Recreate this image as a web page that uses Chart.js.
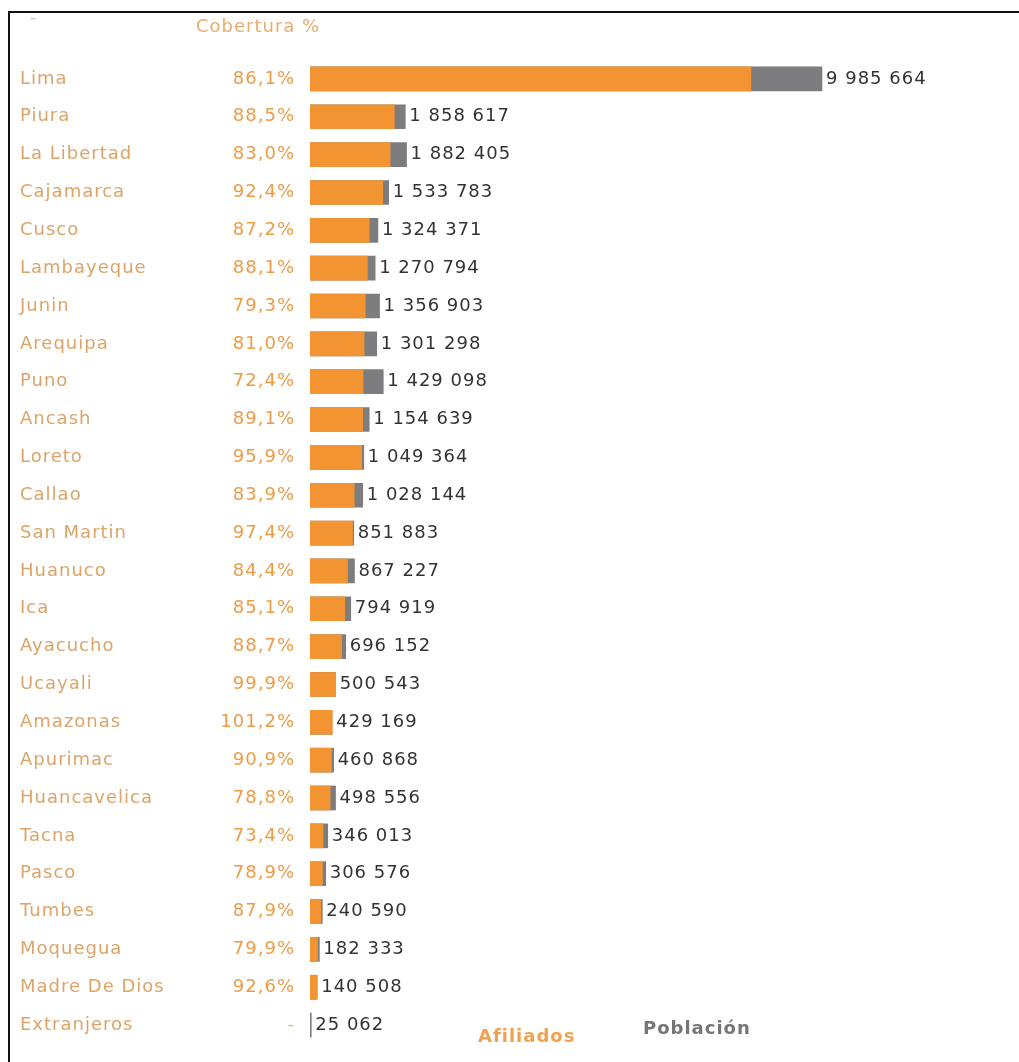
<!DOCTYPE html>
<html>
<head>
<meta charset="utf-8">
<script src="https://cdn.jsdelivr.net/npm/chart.js@4.4.1/dist/chart.umd.min.js"></script>
<style>
  body { margin: 0; background: #fff; }
  #frame { position: absolute; left: 8px; top: 11px; right: 0; bottom: 0; border-top: 2px solid #111; border-left: 2px solid #111; }
  canvas { position: absolute; left: 0; top: 0; }
</style>
</head>
<body>
<div id="frame"></div>
<canvas id="barChart" width="1019" height="1062"></canvas>
<script>
// regions, sorted as in the source table
var regiones = ['Lima', 'Piura', 'La Libertad', 'Cajamarca', 'Cusco', 'Lambayeque', 'Junin', 'Arequipa',
  'Puno', 'Ancash', 'Loreto', 'Callao', 'San Martin', 'Huanuco', 'Ica', 'Ayacucho', 'Ucayali', 'Amazonas',
  'Apurimac', 'Huancavelica', 'Tacna', 'Pasco', 'Tumbes', 'Moquegua', 'Madre De Dios', 'Extranjeros'];

var poblacion = [9985664, 1858617, 1882405, 1533783, 1324371, 1270794, 1356903, 1301298,
  1429098, 1154639, 1049364, 1028144, 851883, 867227, 794919, 696152, 500543, 429169,
  460868, 498556, 346013, 306576, 240590, 182333, 140508, 25062];

var afiliados = [8597657, 1644876, 1562396, 1417215, 1154852, 1119570, 1076024, 1054051,
  1034667, 1028783, 1006340, 862613, 829734, 731940, 676476, 617487, 500042, 434319,
  418929, 392862, 253974, 241888, 211479, 145684, 130110, null];

var cobertura = ['86,1%', '88,5%', '83,0%', '92,4%', '87,2%', '88,1%', '79,3%', '81,0%',
  '72,4%', '89,1%', '95,9%', '83,9%', '97,4%', '84,4%', '85,1%', '88,7%', '99,9%', '101,2%',
  '90,9%', '78,8%', '73,4%', '78,9%', '87,9%', '79,9%', '92,6%', '-'];

var FONT = '18px "DejaVu Sans"';
var BOLD = 'bold 18px "DejaVu Sans"';

function fmt(n) {
  return String(n).replace(/\B(?=(\d{3})+(?!\d))/g, ' ');
}

function txt(ctx, s, x, y, color, align, font) {
  ctx.font = font || FONT;
  ctx.fillStyle = color;
  ctx.textAlign = align;
  ctx.textBaseline = 'middle';
  ctx.letterSpacing = '1px';
  ctx.fillText(s, x, y);
}

// draws the two text columns, the value labels, the header and the legend
var tablePlugin = {
  id: 'tableText',
  afterDatasetsDraw: function (chart) {
    var ctx = chart.ctx;
    var xs = chart.scales.x;
    var ys = chart.scales.y;
    ctx.save();
    txt(ctx, '-', 30, 18, '#c8c8c8', 'left');
    txt(ctx, 'Cobertura %', 196, 27, '#e6ad6e', 'left');
    regiones.forEach(function (r, i) {
      var y = ys.getPixelForValue(i);
      txt(ctx, r, 20, y, '#dca468', 'left');
      txt(ctx, cobertura[i], 295, y, cobertura[i] === '-' ? '#e0b890' : '#ee9b45', 'right');
      var end = Math.max(poblacion[i], afiliados[i] || 0);
      txt(ctx, fmt(poblacion[i]), xs.getPixelForValue(end) + 4, y, '#333333', 'left');
    });
    txt(ctx, 'Afiliados', 478, 1037, '#f0a24e', 'left', BOLD);
    txt(ctx, 'Población', 643, 1029, '#767676', 'left', BOLD);
    ctx.restore();
  }
};

var ctx = document.getElementById('barChart').getContext('2d');
var chart = new Chart(ctx, {
  type: 'bar',
  data: {
    labels: regiones,
    datasets: [
      {
        label: 'Afiliados',
        data: afiliados,
        backgroundColor: '#f39433',
        grouped: false,
        order: 1,
        barThickness: 24
      },
      {
        label: 'Población',
        data: poblacion,
        backgroundColor: '#7d7d7f',
        grouped: false,
        order: 2,
        barThickness: 24
      }
    ]
  },
  options: {
    indexAxis: 'y',
    responsive: false,
    animation: false,
    layout: { padding: { left: 310, right: 19, top: 60, bottom: 18 } },
    scales: {
      x: { display: false, min: 0, max: 13457000 },
      y: { display: false }
    },
    plugins: {
      legend: { display: false },
      tooltip: { enabled: false }
    }
  },
  plugins: [tablePlugin]
});
</script>
</body>
</html>
